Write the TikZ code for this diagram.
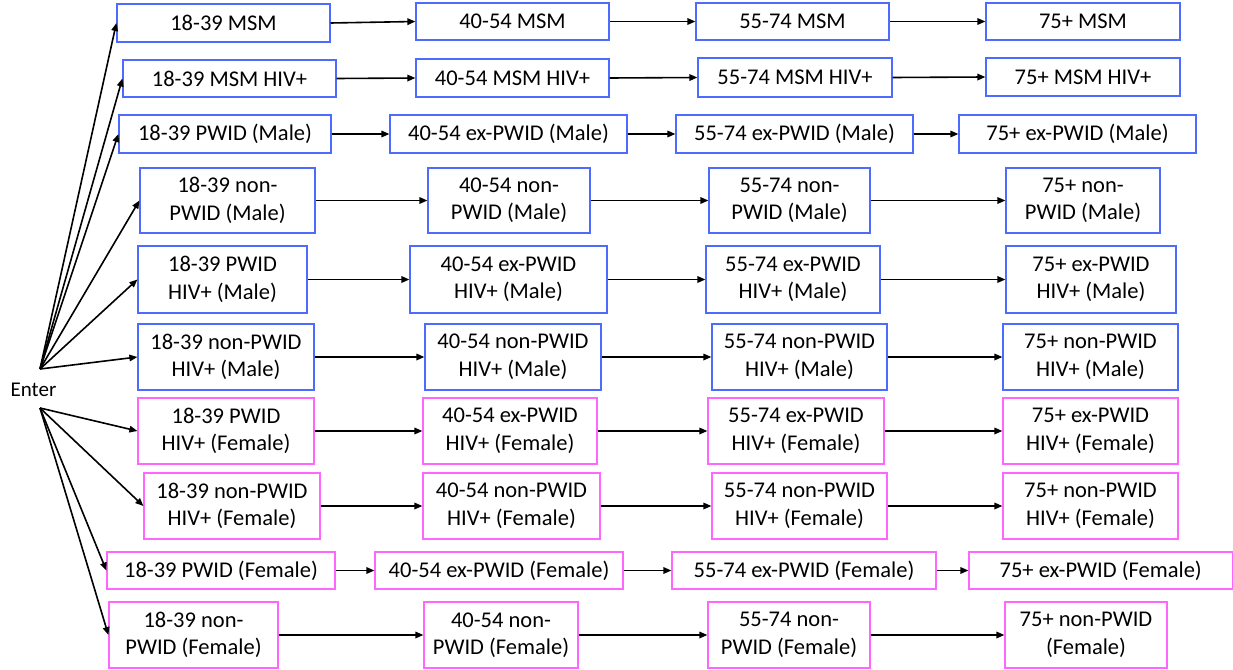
\documentclass[tikz,border=0pt]{standalone}
\usepackage{fontspec}
\setmainfont{Carlito}
\usetikzlibrary{arrows.meta}
\definecolor{bblue}{RGB}{77,107,254}
\definecolor{bmag}{RGB}{255,102,255}
\tikzset{
  box/.style={draw=#1, line width=1.2pt, inner sep=0pt, align=center,
    font=\fontsize{22.5}{27.5}\selectfont, text=black},
  arr/.style={line width=1.6pt, -{Triangle[length=8pt,width=6.5pt]}},
}
\newcommand{\bx}[7]{\node[box=#6, minimum width={(#4-#2)*1pt}, minimum height={(#5-#3)*1pt}] (#1) at ({(#2+#4)/2},{(#3+#5)/2}) {#7};}
\begin{document}
\begin{tikzpicture}[x=1pt,y=-1pt]
\fill[white] (0,0) rectangle (1233,669);
\useasboundingbox (0,0) rectangle (1233,669);
% row 1
\bx{A1}{117}{4}{330}{42}{bblue}{18-39 MSM}
\bx{B1}{416}{3}{609}{40}{bblue}{40-54 MSM}
\bx{C1}{696}{3}{889}{40}{bblue}{55-74 MSM}
\bx{D1}{986}{3}{1180}{40}{bblue}{75+ MSM}
% row 2
\bx{A2}{123}{60}{336}{97}{bblue}{18-39 MSM HIV+}
\bx{B2}{416}{59}{609}{97}{bblue}{40-54 MSM HIV+}
\bx{C2}{698}{58}{892}{97}{bblue}{55-74 MSM HIV+}
\bx{D2}{986}{58}{1180}{96}{bblue}{75+ MSM HIV+}
% row 3
\bx{A3}{119}{115}{331}{153}{bblue}{18-39 PWID (Male)}
\bx{B3}{390}{115}{627}{153}{bblue}{40-54 ex-PWID (Male)}
\bx{C3}{676}{115}{913}{153}{bblue}{55-74 ex-PWID (Male)}
\bx{D3}{959}{115}{1196}{153}{bblue}{75+ ex-PWID (Male)}
% row 4
\bx{A4}{140}{168}{315}{233}{bblue}{18-39 non-\\PWID (Male)}
\bx{B4}{428}{168}{590}{233}{bblue}{40-54 non-\\PWID (Male)}
\bx{C4}{709}{168}{870}{233}{bblue}{55-74 non-\\PWID (Male)}
\bx{D4}{1006}{168}{1160}{233}{bblue}{75+ non-\\PWID (Male)}
% row 5
\bx{A5}{138}{246}{307}{313}{bblue}{18-39 PWID\\HIV+ (Male)}
\bx{B5}{410}{246}{607}{313}{bblue}{40-54 ex-PWID\\HIV+ (Male)}
\bx{C5}{706}{246}{880}{313}{bblue}{55-74 ex-PWID\\HIV+ (Male)}
\bx{D5}{1006}{246}{1176}{313}{bblue}{75+ ex-PWID\\HIV+ (Male)}
% row 6
\bx{A6}{138}{324}{314}{390}{bblue}{18-39 non-PWID\\HIV+ (Male)}
\bx{B6}{425}{324}{601}{390}{bblue}{40-54 non-PWID\\HIV+ (Male)}
\bx{C6}{712}{324}{887}{390}{bblue}{55-74 non-PWID\\HIV+ (Male)}
\bx{D6}{1003}{324}{1178}{390}{bblue}{75+ non-PWID\\HIV+ (Male)}
% row 7
\bx{A7}{138}{398}{314}{464}{bmag}{18-39 PWID\\HIV+ (Female)}
\bx{B7}{423}{398}{597}{464}{bmag}{40-54 ex-PWID\\HIV+ (Female)}
\bx{C7}{708}{398}{884}{464}{bmag}{55-74 ex-PWID\\HIV+ (Female)}
\bx{D7}{1003}{398}{1178}{464}{bmag}{75+ ex-PWID\\HIV+ (Female)}
% row 8
\bx{A8}{144}{473}{320}{539}{bmag}{18-39 non-PWID\\HIV+ (Female)}
\bx{B8}{423}{473}{600}{539}{bmag}{40-54 non-PWID\\HIV+ (Female)}
\bx{C8}{712}{473}{887}{539}{bmag}{55-74 non-PWID\\HIV+ (Female)}
\bx{D8}{1003}{473}{1178}{539}{bmag}{75+ non-PWID\\HIV+ (Female)}
% row 9
\bx{A9}{107}{552}{335}{589}{bmag}{18-39 PWID (Female)}
\bx{B9}{375}{552}{623}{589}{bmag}{40-54 ex-PWID (Female)}
\bx{C9}{672}{552}{936}{589}{bmag}{55-74 ex-PWID (Female)}
\bx{D9}{969}{552}{1232.4}{589}{bmag}{75+ ex-PWID (Female)}
% row 10
\bx{A10}{109}{602}{278}{668}{bmag}{18-39 non-\\PWID (Female)}
\bx{B10}{424}{602}{578}{668}{bmag}{40-54 non-\\PWID (Female)}
\bx{C10}{708}{602}{870}{668}{bmag}{55-74 non-\\PWID (Female)}
\bx{D10}{1005}{602}{1167}{668}{bmag}{75+ non-PWID\\(Female)}
% enter
\node[inner sep=0pt, font=\fontsize{21}{25}\selectfont] (enter) at (33.5,390) {Enter};
\coordinate (eu) at (40,369);
\coordinate (el) at (40,408);
\foreach \r in {1,...,10}{
  \draw[arr] (A\r.east) -- (B\r.west);
  \draw[arr] (B\r.east) -- (C\r.west);
  \draw[arr] (C\r.east) -- (D\r.west);
}
\foreach \r in {1,...,6}{\draw[arr] (eu) -- (A\r.west);}
\foreach \r in {7,...,10}{\draw[arr] (el) -- (A\r.west);}
\end{tikzpicture}
\end{document}
